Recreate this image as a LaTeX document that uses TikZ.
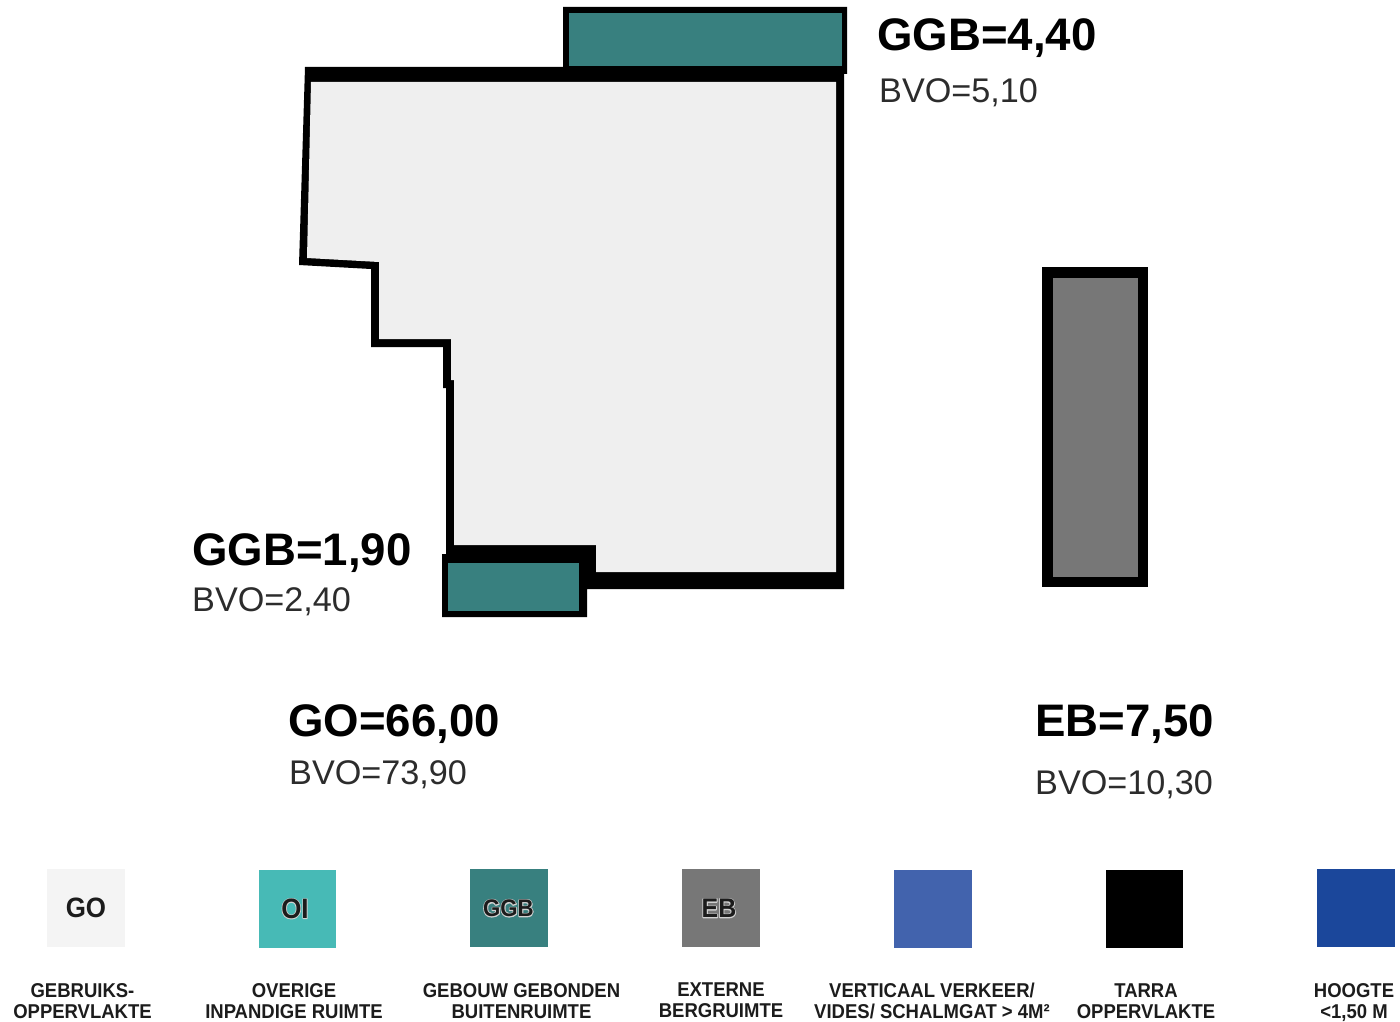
\documentclass[tikz,border=0pt]{standalone}
\usepackage{fontspec}
\setmainfont{Liberation Sans}
\newfontfamily\legfont[FakeStretch=0.925]{Liberation Sans}
\definecolor{gofill}{HTML}{EFEFEF}
\definecolor{ggbfill}{HTML}{38807F}
\definecolor{ebfill}{HTML}{777777}
\definecolor{oifill}{HTML}{47BAB6}
\definecolor{vvfill}{HTML}{4263AD}
\definecolor{hgfill}{HTML}{1B479B}
\definecolor{txt}{HTML}{1C1C1C}
\newcommand{\outl}[2]{\rlap{\special{pdf:code q 1 Tr #1 w 0.82 0.82 0.82 RG 1 j}#2\special{pdf:code 0 Tr Q}}#2}
\tikzset{
  big/.style={inner sep=0pt,anchor=base west,text=black,font=\fontsize{45.6}{45.6}\selectfont\bfseries},
  small/.style={inner sep=0pt,anchor=base west,text=txt!93!white,font=\fontsize{34.2}{34.2}\selectfont},
  swatch/.style={inner sep=0pt,minimum width=77.5pt,minimum height=78pt,anchor=north west,text=txt,font=\fontsize{28}{28}\legfont\bfseries},
  leg/.style={inner sep=0pt,align=center,anchor=center,text=txt,font=\fontsize{20}{21}\legfont\bfseries},
}
\begin{document}
\begin{tikzpicture}[x=1pt,y=-1pt]
\useasboundingbox (0,0) rectangle (1400,1022);
% black outline of the building
\fill[black] (305,67)--(563,67)--(563,7)--(847,7)--(847,74)--(844,74)--(844,589)--(587,589)--(587,617)--(442,617)--(442,554)--(446,554)--(446,388)--(443,388)--(443,347)--(371,347)--(371,269)--(299,265)--cycle;
% GO interior
\fill[gofill] (311,82)--(836,82)--(836,572)--(596,572)--(596,545)--(454,545)--(454,380)--(451,380)--(451,339)--(379,339)--(379,262)--(307,258)--cycle;
% GGB balconies
\fill[ggbfill] (569,13) rectangle (841.5,66);
\fill[ggbfill] (448,562.5) rectangle (579,611);
% EB
\fill[black] (1042,267) rectangle (1148,587);
\fill[ebfill] (1053,278) rectangle (1138,577);
% labels
\node[big] (l1) at (877,51) {GGB=4,40};
\node[small] (l2) at (879,103) {BVO=5,10};
\node[big] (l3) at (192,565) {GGB=1,90};
\node[small] (l4) at (192,611.5) {BVO=2,40};
\node[big] (l5) at (288,736) {GO=66,00};
\node[small] (l6) at (289,784.5) {BVO=73,90};
\node[big] (l7) at (1035,736) {EB=7,50};
\node[small] (l8) at (1035,794) {BVO=10,30};
% legend
\node[swatch,fill=gofill!70!white] (s1) at (47,869) {\raisebox{1pt}{GO}};
\node[swatch,fill=oifill] (s2) at (258.5,869.5) {\raisebox{-3pt}{\hspace{-5pt}\outl{1.6}{OI}}};
\node[swatch,fill=ggbfill] (s3) at (470,869) {\raisebox{-2pt}{\hspace{-1pt}\fontsize{24}{24}\selectfont\bfseries\outl{1.8}{GGB}}};
\node[swatch,fill=ebfill] (s4) at (682,869) {\raisebox{-2pt}{\hspace{-4pt}\fontsize{27}{27}\selectfont\bfseries\outl{1.8}{EB}}};
\node[swatch,fill=vvfill] (s5) at (894,870) {};
\node[swatch,fill=black] (s6) at (1105.5,869.5) {};
\node[swatch,fill=hgfill] (s7) at (1317,868.5) {};
\node[leg] (t1) at (82.5,1001.5) {GEBRUIKS-\\OPPERVLAKTE};
\node[leg] (t2) at (294,1001.5) {OVERIGE\\INPANDIGE RUIMTE};
\node[leg] (t3) at (521.5,1001.5) {GEBOUW GEBONDEN\\BUITENRUIMTE};
\node[leg] (t4) at (721,1000) {EXTERNE\\BERGRUIMTE};
\node[leg] (t5) at (932,1000.5) {VERTICAAL VERKEER/\\VIDES/ SCHALMGAT > 4M²};
\node[leg] (t6) at (1146,1001.5) {TARRA\\OPPERVLAKTE};
\node[leg] (t7) at (1354,1002.5) {HOOGTE\\<1,50 M};
\end{tikzpicture}
\end{document}
